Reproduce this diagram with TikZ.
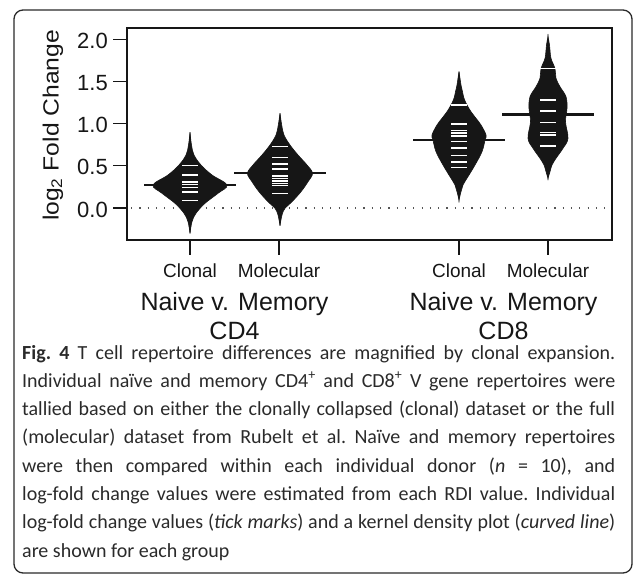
\documentclass[tikz,border=0pt]{standalone}
\usepackage{fontspec}
\setmainfont{Carlito}
\newfontfamily\plotfont{Liberation Sans}
\usepackage{graphicx}
\usepackage{tikz}
\definecolor{ink}{HTML}{161616}
\definecolor{capink}{HTML}{2A2A2A}
\definecolor{zerogray}{HTML}{555555}
% one bean = mirrored half outline, #1 centre x, #2 half profile (w,y)
\newcommand{\bean}[2]{%
  \foreach \s in {1,-1}
    \draw[bean,shift={(#1,0)},xscale=\s] plot[smooth,tension=0.6] coordinates {#2} -- cycle;}
\newcommand{\obsticks}[2]{%
  \foreach \t in {#2} \draw[obs] (#1-8,\t) -- (#1+8,\t);}

\begin{document}
\begin{tikzpicture}[x=1pt,y=1pt,yscale=-1,line cap=butt]
	\tikzstyle{frame}=[draw=capink,line width=1.3pt,rounded corners=9pt];
	\tikzstyle{axis}=[draw=ink,line width=1.1pt];
	\tikzstyle{bean}=[fill=ink,draw=ink,line width=0.6pt];
	\tikzstyle{mid}=[draw=ink,line width=2.6pt];
	\tikzstyle{obs}=[draw=white,line width=1.2pt];
	\tikzstyle{ticklab}=[font=\plotfont\fontsize{22}{26}\selectfont,text=ink,inner sep=0pt];
	\tikzstyle{catlab}=[font=\plotfont\fontsize{19}{23}\selectfont,text=ink,inner sep=0pt];
	\tikzstyle{grplab}=[font=\plotfont\fontsize{25}{30}\selectfont,text=ink,inner sep=0pt];
	\tikzstyle{capline}=[font=\fontsize{20}{28}\selectfont\frenchspacing,text=capink,inner sep=0pt,anchor=base west];

	\useasboundingbox (0,0) rectangle (633,576);
	\draw[frame] (14,10) rectangle (632,573);

	% plot area
	\draw[axis] (127,28) rectangle (612,240);
	\draw[zerogray,line width=1.2pt,dash pattern=on 1.2pt off 7.1pt] (131,208) -- (610,208);
	\foreach \v/\l [count=\i] in {0/0.0,0.5/0.5,1/1.0,1.5/1.5,2/2.0} {
		\draw[axis] (113,{208-84.4*\v}) -- (127,{208-84.4*\v});
		\node[ticklab,anchor=east] (ytick\i) at (108,{209.5-84.4*\v}) {\l};
	}
	\node[ticklab,rotate=90,anchor=base] (ylab) at (58.5,125.5) {\scalebox{1.12}[1]{log\textsubscript{2} Fold Change}};

	% beans
	\bean{190}{(0,132.3) (1.5,145) (4,155) (11,165) (22,175) (37,185) (28,193.3) (15,203.3) (6,213.3) (2,221.7) (0,233.3)}
	\bean{280}{(0,113.3) (1.7,125) (4,135) (10,145) (18,155) (27,165) (32.5,173.3) (28,181.7) (21,191.7) (12,201.7) (5,208.3) (2,215) (0,225.7)}
	\bean{459}{(0,71.7) (1,78.3) (2,85) (3.5,91.7) (5,98.3) (8,105) (12,111.7) (17,118.3) (22,125) (27,135) (26,140) (23,151.7) (16,165) (10,175) (4,185) (2,191.7) (0,200)}
	\bean{548}{(0,36.7) (1.5,45) (3,58.3) (7,68.3) (8,78.3) (12,86.7) (18,96.7) (19,108.3) (17.5,121.7) (20,138.3) (15,148.3) (8,158.3) (4,165) (2,171.7) (0,178.3)}
	\draw[mid] (144,185) -- (236,185);
	\draw[mid] (234,173) -- (326,173);
	\draw[mid] (413,140) -- (505,140);
	\draw[mid] (502,114.5) -- (594,114.5);
	\obsticks{190}{165.3,175,182,184.5,187.5,192,200.5}
	\obsticks{280}{146.7,157.5,164,169,176,178.5,181,183.5,185.5,193.3}
	\obsticks{459}{105,124,130.5,133,136,141.7,148,155.5,162,167.7}
	\obsticks{548}{68.3,100,111,122.7,132.5,135,146}

	% categories
	\foreach \x/\t [count=\i] in {190/Clonal,279/Molecular,459/Clonal,548/Molecular} {
		\draw[axis] (\x,240) -- (\x,255);
		\node[catlab,anchor=base] (cat\i) at (\x,277) {\t};
	}
	\node[grplab,anchor=base] (grp4) at (234.5,310) {Naive v. Memory};
	\node[grplab,anchor=base] (cd4) at (234.5,339) {CD4};
	\node[grplab,anchor=base] (grp8) at (503.5,310) {Naive v. Memory};
	\node[grplab,anchor=base] (cd8) at (503.5,339) {CD8};

	% caption
	\node[capline] (cap1) at (22,359) {\makebox[593pt][s]{\textbf{Fig. 4} T cell repertoire differences are magnified by clonal expansion.}};
	\node[capline] (cap2) at (22,387.3) {\makebox[593pt][s]{Individual naïve and memory CD4\textsuperscript{+} and CD8\textsuperscript{+} V gene repertoires were}};
	\node[capline] (cap3) at (22,415.6) {\makebox[593pt][s]{tallied based on either the clonally collapsed (clonal) dataset or the full}};
	\node[capline] (cap4) at (22,443.9) {\makebox[593pt][s]{(molecular) dataset from Rubelt et al. Naïve and memory repertoires}};
	\node[capline] (cap5) at (22,472.2) {\makebox[593pt][s]{were then compared within each individual donor (\textit{n} = 10), and}};
	\node[capline] (cap6) at (22,500.5) {\makebox[593pt][s]{log-fold change values were estimated from each RDI value. Individual}};
	\node[capline] (cap7) at (22,528.8) {\makebox[593pt][s]{log-fold change values (\textit{tick marks}) and a kernel density plot (\textit{curved line})}};
	\node[capline] (cap8) at (22,557.1) {are shown for each group};
\end{tikzpicture}
\end{document}
